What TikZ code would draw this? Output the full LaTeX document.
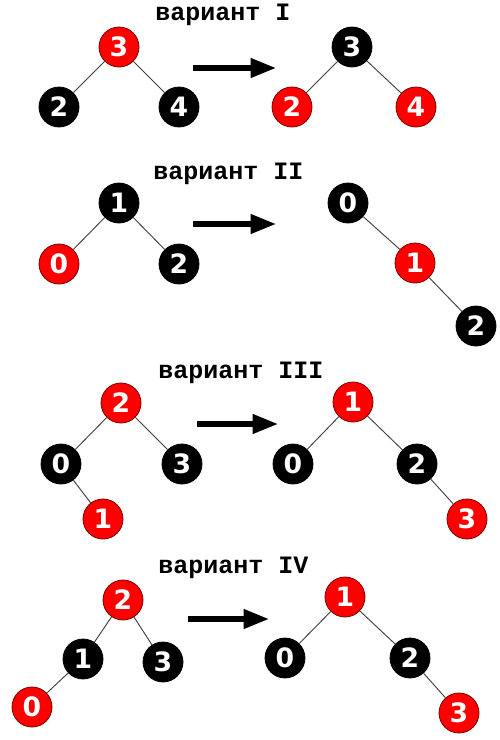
\documentclass[tikz,border=0pt]{standalone}
\usepackage{fontspec}
\newfontfamily\titlefont{Liberation Mono}[BoldFont={Liberation Mono Bold}]
\newfontfamily\digitfont{DejaVu Sans}[BoldFont={DejaVu Sans Bold}]
\usetikzlibrary{arrows.meta}
\definecolor{rbred}{HTML}{FF0000}
\definecolor{rbedge}{HTML}{7A0000}
\tikzset{
  nd/.style={circle,minimum size=30pt,inner sep=0pt,font=\digitfont\bfseries\fontsize{20}{20}\selectfont,text=white},
  rn/.style={nd,fill=rbred,draw=rbedge,line width=0.6pt},
  bn/.style={nd,fill=black,draw=black,line width=0.6pt},
  ed/.style={draw=black!75,line width=0.7pt},
  ttl/.style={anchor=west,inner sep=0pt,font=\titlefont\bfseries\fontsize{18.75}{20}\selectfont},
  bigarrow/.style={line width=3.8pt,-{Triangle[length=19pt,width=14pt]}}
}
\begin{document}
\begin{tikzpicture}[x=0.75pt,y=-0.75pt]
\useasboundingbox (0,0) rectangle (500,740);
% Variant I
\node[ttl] (t1) at (155,15) {вариант I};
\node[rn] (a3) at (119,47) {3};
\node[bn] (a2) at (59,107) {2};
\node[bn] (a4) at (179,107) {4};
\draw[ed] (a3) -- (a2); \draw[ed] (a3) -- (a4);
\coordinate (ar1s) at (193,68); \coordinate (ar1e) at (276,68);
\draw[bigarrow] (ar1s) -- (ar1e);
\node[bn] (b3) at (352,47) {3};
\node[rn] (b2) at (292,107) {2};
\node[rn] (b4) at (416,107) {4};
\draw[ed] (b3) -- (b2); \draw[ed] (b3) -- (b4);
% Variant II
\node[ttl] (t2) at (153,174) {вариант II};
\node[bn] (c1) at (119,203) {1};
\node[rn] (c0) at (59,264) {0};
\node[bn] (c2) at (179,264) {2};
\draw[ed] (c1) -- (c0); \draw[ed] (c1) -- (c2);
\coordinate (ar2s) at (193,224); \coordinate (ar2e) at (276,224);
\draw[bigarrow] (ar2s) -- (ar2e);
\node[bn] (d0) at (348,203) {0};
\node[rn] (d1) at (415,263) {1};
\node[bn] (d2) at (476,326) {2};
\draw[ed] (d0) -- (d1); \draw[ed] (d1) -- (d2);
% Variant III
\node[ttl] (t3) at (158,373) {вариант III};
\node[rn] (e2) at (121,403) {2};
\node[bn] (e0) at (61,464) {0};
\node[bn] (e3) at (182,464) {3};
\node[rn] (e1) at (103,519) {1};
\draw[ed] (e2) -- (e0); \draw[ed] (e2) -- (e3); \draw[ed] (e0) -- (e1);
\coordinate (ar3s) at (197,424); \coordinate (ar3e) at (278,424);
\draw[bigarrow] (ar3s) -- (ar3e);
\node[rn] (f1) at (353,402) {1};
\node[bn] (f0) at (293,464) {0};
\node[bn] (f2) at (417,464) {2};
\node[rn] (f3) at (467,519) {3};
\draw[ed] (f1) -- (f0); \draw[ed] (f1) -- (f2); \draw[ed] (f2) -- (f3);
% Variant IV
\node[ttl] (t4) at (158,568) {вариант IV};
\node[rn] (g2) at (123,600) {2};
\node[bn] (g1) at (83,659) {1};
\node[bn] (g3) at (163,662) {3};
\node[rn] (g0) at (32,707) {0};
\draw[ed] (g2) -- (g1); \draw[ed] (g2) -- (g3); \draw[ed] (g1) -- (g0);
\coordinate (ar4s) at (188,619); \coordinate (ar4e) at (269,619);
\draw[bigarrow] (ar4s) -- (ar4e);
\node[rn] (h1) at (345,597) {1};
\node[bn] (h0) at (285,658) {0};
\node[bn] (h2) at (410,658) {2};
\node[rn] (h3) at (459,713) {3};
\draw[ed] (h1) -- (h0); \draw[ed] (h1) -- (h2); \draw[ed] (h2) -- (h3);
\end{tikzpicture}
\end{document}
